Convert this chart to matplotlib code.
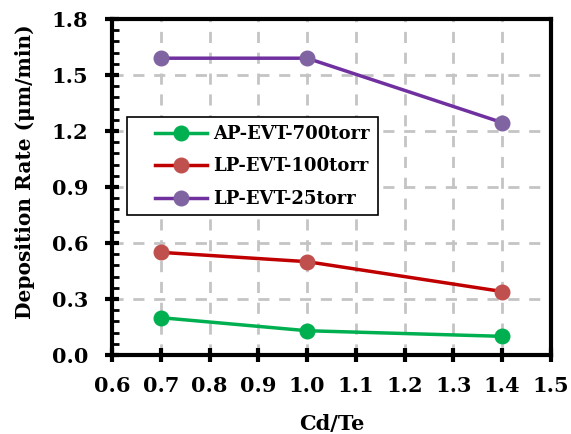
import matplotlib
matplotlib.use("Agg")
import matplotlib.pyplot as plt
from matplotlib.ticker import MultipleLocator, FormatStrFormatter
from matplotlib.patches import Rectangle

x = [0.7, 1.0, 1.4]
ap_700 = [0.20, 0.13, 0.10]
lp_100 = [0.55, 0.50, 0.34]
lp_25 = [1.59, 1.59, 1.245]
labels = ["AP-EVT-700torr", "LP-EVT-100torr", "LP-EVT-25torr"]

plt.rcParams['font.family'] = ['DejaVu Serif']
plt.rcParams['font.weight'] = 'bold'

W, H = 571, 434
L, R, T, B = 112, 551, 19, 355
fig = plt.figure(figsize=(W/100, H/100), dpi=100)
ax = fig.add_axes([L/W, 1-B/H, (R-L)/W, (B-T)/H])

def ax_frac(px, py):
    return (px-L)/(R-L), (B-py)/(B-T)

ax.plot(x, ap_700, color='#00B050', lw=2.5, marker='o', ms=10.5,
        mfc='#00B050', mec='#00B050', label=labels[0], zorder=3)
ax.plot(x, lp_100, color='#C00000', lw=2.5, marker='o', ms=10.5,
        mfc='#C0504D', mec='#C0504D', label=labels[1], zorder=3)
ax.plot(x, lp_25, color='#7030A0', lw=2.5, marker='o', ms=10.5,
        mfc='#8064A2', mec='#8064A2', label=labels[2], zorder=3)

ax.set_xlim(0.6, 1.5)
ax.set_ylim(0, 1.8)
ax.xaxis.set_major_locator(MultipleLocator(0.1))
ax.yaxis.set_major_locator(MultipleLocator(0.3))
ax.yaxis.set_minor_locator(MultipleLocator(0.06))
ax.xaxis.set_major_formatter(FormatStrFormatter('%.1f'))
ax.yaxis.set_major_formatter(FormatStrFormatter('%.1f'))

ax.grid(True, which='major', color='#C4C4C4', ls=(0, (4, 3.5)), lw=2, zorder=0)
for s in ax.spines.values():
    s.set_linewidth(3)
ax.tick_params(axis='both', which='major', direction='inout', length=10, width=3,
               labelsize=15)
ax.tick_params(axis='y', which='major', pad=12)
ax.tick_params(axis='x', which='major', pad=10)
ax.tick_params(axis='y', which='minor', direction='in', length=5, width=2)
for lab in ax.get_xticklabels() + ax.get_yticklabels():
    lab.set_fontweight('bold')

ax.set_xlabel("Cd/Te", fontsize=15, fontweight='bold', labelpad=13)
ax.set_ylabel("Deposition Rate (μm/min)", fontsize=14.5, fontweight='bold')
ax.yaxis.set_label_coords(*ax_frac(35, 171.5))

# legend frame
fx0, fy0 = ax_frac(127, 215)
fx1, fy1 = ax_frac(378, 117)
ax.add_patch(Rectangle((fx0, fy0), fx1-fx0, fy1-fy0, transform=ax.transAxes,
                       facecolor='white', edgecolor='black', lw=1.2, zorder=4))

leg = ax.legend(loc='upper left', bbox_to_anchor=ax_frac(155, 125),
                fontsize=13, frameon=False, handlelength=2.9, handletextpad=0.3,
                borderpad=0, labelspacing=0.8, borderaxespad=0)
leg.set_zorder(5)
for t in leg.get_texts():
    t.set_fontweight('bold')

fig.savefig("out.png", dpi=100)
